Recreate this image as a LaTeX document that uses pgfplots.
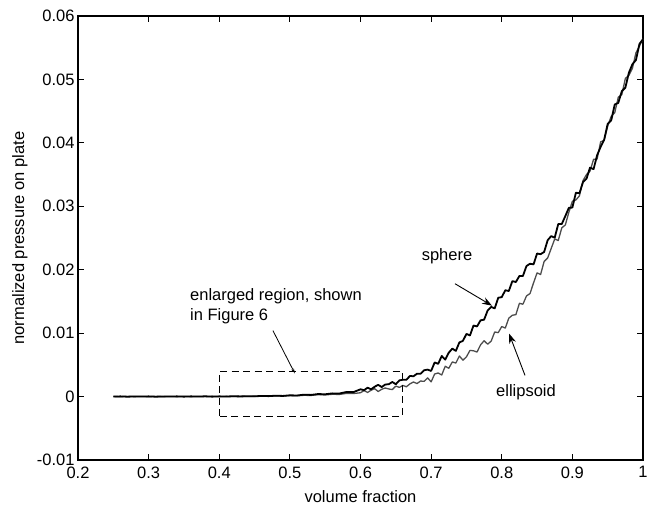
\documentclass[border=0pt]{standalone}
\usepackage{fontspec}
\setmainfont{Liberation Sans}
\usepackage{pgfplots}
\usepackage{pgfplotstable}
\pgfplotsset{compat=1.18}
\usetikzlibrary{arrows.meta}

\pgfplotstableread{
x y
0.25 0.0000
0.26 0.00003
0.27 -0.00002
0.28 0.00002
0.29 0.0000
0.30 0.00003
0.31 -0.00002
0.32 0.00002
0.33 0.0000
0.34 0.00003
0.35 -0.00001
0.36 0.00003
0.37 0.0000
0.38 0.00004
0.39 -0.00001
0.40 0.00003
0.41 0.00001
0.42 0.00005
0.43 0.00002
0.44 0.00006
0.45 0.00004
0.46 0.0001
0.47 0.00007
0.48 0.00014
0.49 0.0001
0.50 0.0002
0.51 0.00017
0.52 0.0003
0.53 0.00026
0.54 0.0004
0.55 0.00036
0.56 0.0005
0.57 0.00048
0.58 0.00072
0.59 0.0007
0.600 0.00115
0.605 0.0010
0.610 0.0014
0.615 0.00115
0.620 0.00155
0.625 0.00185
0.630 0.0015
0.635 0.0019
0.640 0.00195
0.645 0.0023
0.650 0.00195
0.655 0.00255
0.660 0.00265
0.665 0.00265
0.670 0.00325
0.675 0.0032
0.680 0.0036
0.685 0.0036
0.690 0.00415
0.695 0.00425
0.700 0.00404
0.705 0.00538
0.710 0.00516
0.715 0.0064
0.720 0.00582
0.725 0.00692
0.730 0.00756
0.735 0.0072
0.740 0.00854
0.745 0.00878
0.750 0.00988
0.755 0.00964
0.760 0.0112
0.765 0.01106
0.770 0.01202
0.775 0.01212
0.780 0.01356
0.785 0.01414
0.790 0.0139
0.795 0.01558
0.800 0.01568
0.805 0.01676
0.810 0.01664
0.815 0.0182
0.820 0.01806
0.825 0.01902
0.830 0.01902
0.835 0.02058
0.840 0.02094
0.845 0.02084
0.850 0.02255
0.855 0.02245
0.860 0.0228
0.865 0.02465
0.870 0.0253
0.875 0.02505
0.880 0.0272
0.885 0.0272
0.890 0.02845
0.895 0.02975
0.900 0.0298
0.905 0.03215
0.910 0.03205
0.915 0.0338
0.920 0.03435
0.925 0.0361
0.930 0.03585
0.935 0.03805
0.940 0.03935
0.945 0.0405
0.950 0.0430
0.955 0.04355
0.960 0.04605
0.965 0.0463
0.970 0.04815
0.975 0.0487
0.980 0.05105
0.985 0.0524
0.990 0.05305
0.995 0.0556
1.000 0.05635
}\sphere

\pgfplotstableread{
x y
0.25 0.0000
0.26 -0.00002
0.27 0.00002
0.28 -0.00001
0.29 0.00002
0.30 -0.00002
0.31 0.00001
0.32 -0.00002
0.33 0.00002
0.34 -0.00001
0.35 0.00002
0.36 -0.00001
0.37 0.00002
0.38 0.0000
0.39 0.00003
0.40 0.0000
0.41 0.00003
0.42 0.00001
0.43 0.00004
0.44 0.00002
0.45 0.00003
0.46 0.00006
0.47 0.00004
0.48 0.0001
0.49 0.00008
0.50 0.00015
0.51 0.00012
0.52 0.0002
0.53 0.00018
0.54 0.0003
0.55 0.00026
0.56 0.00036
0.57 0.00034
0.58 0.0005
0.59 0.00048
0.600 0.0006
0.605 0.00095
0.610 0.00065
0.615 0.0010
0.620 0.00125
0.625 0.0008
0.630 0.00115
0.635 0.00135
0.640 0.0012
0.645 0.0011
0.650 0.00165
0.655 0.00145
0.660 0.00175
0.665 0.00155
0.670 0.0020
0.675 0.0023
0.680 0.00205
0.685 0.00245
0.690 0.0024
0.695 0.00295
0.700 0.00232
0.705 0.00356
0.710 0.00372
0.715 0.0034
0.720 0.00478
0.725 0.00446
0.730 0.00546
0.735 0.00528
0.740 0.0064
0.745 0.00574
0.750 0.00626
0.755 0.00728
0.760 0.00722
0.765 0.00702
0.770 0.00816
0.775 0.0088
0.780 0.00826
0.785 0.00874
0.790 0.01018
0.795 0.01008
0.800 0.01104
0.805 0.0108
0.810 0.01236
0.815 0.01282
0.820 0.01292
0.825 0.0147
0.830 0.01456
0.835 0.01586
0.840 0.01624
0.845 0.01792
0.850 0.0195
0.855 0.01925
0.860 0.0213
0.865 0.02185
0.870 0.02335
0.875 0.02485
0.880 0.0246
0.885 0.0266
0.890 0.02705
0.895 0.02905
0.900 0.0308
0.905 0.0310
0.910 0.03165
0.915 0.03405
0.920 0.0350
0.925 0.03555
0.930 0.0374
0.935 0.03745
0.940 0.04015
0.945 0.0404
0.950 0.04265
0.955 0.0442
0.960 0.04475
0.965 0.0472
0.970 0.0476
0.975 0.05015
0.980 0.05065
0.985 0.05175
0.990 0.0542
0.995 0.05525
1.000 0.0564
}\ellipsoid

\begin{document}
\begin{tikzpicture}
\begin{axis}[
  scale only axis,
  width=565pt, height=444pt,
  xmin=0.2, xmax=1, ymin=-0.01, ymax=0.06,
  scaled x ticks=false, scaled y ticks=false,
  xtick={0.2,0.3,0.4,0.5,0.6,0.7,0.8,0.9,1},
  xticklabels={0.2,0.3,0.4,0.5,0.6,0.7,0.8,0.9,1},
  ytick={-0.01,0,0.01,0.02,0.03,0.04,0.05,0.06},
  yticklabels={-0.01,0,0.01,0.02,0.03,0.04,0.05,0.06},
  tick align=inside,
  major tick length=6pt,
  tick style={black, line width=1pt},
  axis line style={black, line width=1.2pt},
  tick label style={font=\fontsize{16.5}{19}\selectfont, black},
  xticklabel style={yshift=-3pt},
  label style={font=\fontsize{16.5}{19}\selectfont, black},
  xlabel={volume fraction},
  ylabel={normalized pressure on plate},
  xlabel style={at={(axis description cs:0.5,-0.083)}, anchor=center},
  ylabel style={at={(axis description cs:-0.1027,0.5)}, anchor=center},
  clip=false,
]
\addplot[color=black!70, line width=1.3pt, line join=round] table[x=x,y=y] {\ellipsoid};
\addplot[color=black, line width=1.8pt, line join=round] table[x=x,y=y] {\sphere};

\draw[black, line width=1.3pt, dash pattern=on 7pt off 4.5pt]
  (axis cs:0.4,-0.0031) rectangle (axis cs:0.659,0.004);

\node[anchor=west, align=left, font=\fontsize{16.5}{20}\selectfont, inner sep=0pt]
  at (axis cs:0.3586,0.01418) {enlarged region, shown\\in Figure 6};
\draw[black, line width=0.8pt, -{Stealth[length=5pt,width=3pt]}]
  (axis cs:0.476,0.0104) -- (axis cs:0.507,0.00366);

\node[font=\fontsize{16.5}{20}\selectfont, inner sep=0pt] at (axis cs:0.7225,0.02218) {sphere};
\draw[black, line width=0.9pt, -{Stealth[length=10pt,width=7pt]}]
  (axis cs:0.7338,0.01779) -- (axis cs:0.7862,0.01433);

\node[font=\fontsize{16.5}{20}\selectfont, inner sep=0pt] at (axis cs:0.8343,0.00075) {ellipsoid};
\draw[black, line width=0.9pt, -{Stealth[length=10pt,width=7pt]}]
  (axis cs:0.8329,0.00334) -- (axis cs:0.8103,0.00994);
\end{axis}
\pgfresetboundingbox
\path[use as bounding box] ([shift={(-78pt,-46pt)}]current axis.south west) rectangle ([shift={(7pt,16pt)}]current axis.north east);
\end{tikzpicture}
\end{document}
